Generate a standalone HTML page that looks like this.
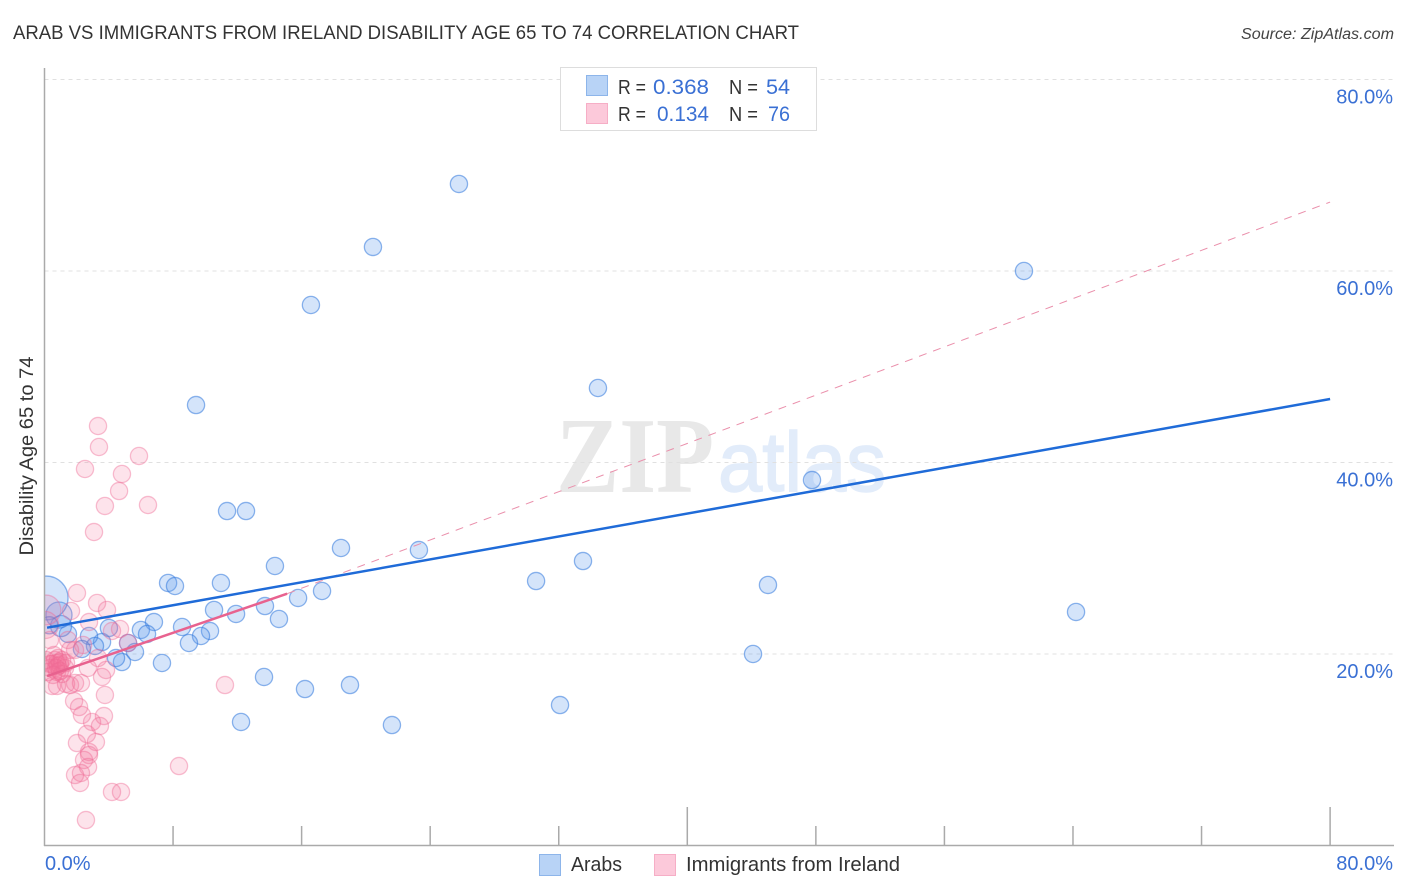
<!DOCTYPE html>
<html lang="en">
<head>
<meta charset="utf-8">
<title>Arab vs Immigrants from Ireland Disability Age 65 to 74 Correlation Chart</title>
<style>
html,body{margin:0;padding:0;background:#fff;}
svg{display:block;font-family:"Liberation Sans",sans-serif;}
</style>
</head>
<body>
<svg id="chart" xmlns="http://www.w3.org/2000/svg" width="1406" height="892" viewBox="0 0 1406 892">
  <text x="13" y="39" font-size="19" fill="#333" textLength="786" lengthAdjust="spacingAndGlyphs">ARAB VS IMMIGRANTS FROM IRELAND DISABILITY AGE 65 TO 74 CORRELATION CHART</text>
  <text x="1241" y="39" font-size="15.5" font-style="italic" fill="#444" textLength="153" lengthAdjust="spacingAndGlyphs">Source: ZipAtlas.com</text>

  <g>
    <text x="556" y="492" font-family="'Liberation Serif',serif" font-weight="bold" font-size="108" fill="#e8e8e8" textLength="158" lengthAdjust="spacingAndGlyphs">ZIP</text>
    <text x="718" y="491" font-family="'Liberation Sans',sans-serif" font-size="84" fill="#e2ecfa" stroke="#e2ecfa" stroke-width="1.5" textLength="168" lengthAdjust="spacingAndGlyphs">atlas</text>
  </g>

  <g id="grid"></g>
  <g id="points"></g>
  <rect x="0" y="60" width="45" height="790" fill="#fff"/>
  <g id="axes"></g>
  <g id="trends"></g>

  <text transform="translate(33,456) rotate(-90)" font-size="19" fill="#333" text-anchor="middle" textLength="199" lengthAdjust="spacingAndGlyphs">Disability Age 65 to 74</text>

  <g>
    <rect x="560.5" y="67.5" width="256" height="63" fill="#fff" stroke="#ddd" stroke-width="1"/>
    <rect x="586.5" y="75.5" width="21" height="20" fill="#b8d3f6" stroke="#8db5ea"/>
    <rect x="586.5" y="103.5" width="21" height="20" fill="#fcc9da" stroke="#f6aec6"/>
    <g font-size="20" fill="#333">
      <text x="618" y="94" textLength="28" lengthAdjust="spacingAndGlyphs">R =</text>
      <text x="729" y="94" textLength="29" lengthAdjust="spacingAndGlyphs">N =</text>
      <text x="618" y="121" textLength="28" lengthAdjust="spacingAndGlyphs">R =</text>
      <text x="729" y="121" textLength="29" lengthAdjust="spacingAndGlyphs">N =</text>
    </g>
    <g font-size="21.5" fill="#3a70d4">
      <text x="653" y="94" textLength="56" lengthAdjust="spacingAndGlyphs">0.368</text>
      <text x="766" y="94" textLength="24" lengthAdjust="spacingAndGlyphs">54</text>
      <text x="657" y="121" textLength="52" lengthAdjust="spacingAndGlyphs">0.134</text>
      <text x="768" y="121" textLength="22" lengthAdjust="spacingAndGlyphs">76</text>
    </g>
  </g>

  <g>
    <rect x="539.5" y="854.5" width="21" height="21" fill="#b8d3f6" stroke="#8db5ea"/>
    <text x="571" y="871" font-size="20" fill="#333" textLength="51" lengthAdjust="spacingAndGlyphs">Arabs</text>
    <rect x="654.5" y="854.5" width="21" height="21" fill="#fcc9da" stroke="#f6aec6"/>
    <text x="686" y="871" font-size="20" fill="#333" textLength="214" lengthAdjust="spacingAndGlyphs">Immigrants from Ireland</text>
  </g>
</svg>

<script>
// Data (percent values)
const xTickValues = [0,8,16,24,32,40,48,56,64,72,80];
const xTickMajor = [40,80];
const xEdgeLabels = [0,80];
const yTickValues = [20,40,60,80];

const arabX = [25.79,20.44,60.95,16.58,34.44,9.43,47.76,11.36,12.54,18.45,23.3,33.51,14.34,30.59,7.69,8.12,10.98,45.02,17.27,15.78,13.72,10.55,11.92,14.59,64.19,6.81,8.56,6.0,6.38,10.3,9.74,8.99,5.2,3.58,2.77,3.14,2.33,1.46,1.03,0.9,4.01,5.63,4.82,4.45,7.31,44.09,13.66,19.01,16.21,32.08,12.23,21.62,0.1,0.3];
const arabY = [69.09,62.51,60.0,56.45,47.78,46.0,38.17,34.93,34.93,31.07,30.86,29.71,29.19,27.62,27.42,27.1,27.42,27.21,26.58,25.85,25.01,24.6,24.18,23.66,24.39,23.34,22.82,22.51,22.09,22.4,21.88,21.15,21.15,21.25,21.88,20.84,20.52,22.09,22.92,24.07,22.72,20.21,19.16,19.58,19.06,20.0,17.6,16.76,16.34,14.67,12.9,12.58,25.85,23.0];
const arabWeight = [1,1,1,1,1,1,1,1,1,1,1,1,1,1,1,1,1,1,1,1,1,1,1,1,1,1,1,1,1,1,1,1,1,1,1,1,1,1,1.5,2.3,1,1,1,1,1,1,1,1,1,1,1,1,6.5,1];

const irelandX = [3.33,3.39,5.88,2.52,4.82,4.64,3.76,6.44,3.08,2.02,3.27,1.65,3.89,2.77,4.2,4.7,5.2,2.4,3.33,3.83,3.58,3.76,1.84,2.15,2.33,3.7,2.96,3.45,2.64,2.02,3.2,2.77,2.77,2.46,2.71,1.9,2.27,2.21,4.2,4.76,2.58,8.37,11.23,0.03,0.09,0.34,0.47,0.59,0.84,1.9,1.46,0.65,0.96,0.34,0.78,1.28,0.96,0.47,0.78,1.34,1.59,1.9,2.27,0.78,0.09,0.22,0.34,0.84,1.09,1.34,1.09,0.72,0.96,0.53,1.59,2.7];
const irelandY = [43.81,41.62,40.68,39.32,38.8,37.02,35.46,35.56,32.74,26.37,25.33,24.49,24.6,23.34,22.4,22.61,21.15,20.94,19.58,18.33,17.6,15.72,15.09,14.46,13.63,13.52,12.9,12.48,11.64,10.7,10.81,9.77,9.45,8.93,8.2,7.36,7.57,6.53,5.59,5.59,2.66,8.3,16.76,23.03,24.6,21.46,18.96,19.89,19.58,20.42,21.46,19.37,18.85,18.54,18.12,18.54,19.16,16.66,16.66,16.87,16.76,16.97,16.97,19.06,19.37,18.12,18.96,18.75,19.37,19.06,17.91,18.54,18.22,17.81,20.42,18.54];
const irelandWeight = [1,1,1,1,1,1,1,1,1,1,1,1,1,1,1,1,1,1,1,1,1,1,1,1,1,1,1,1,1,1,1,1,1,1,1,1,1,1,1,1,1,1,1,2.5,3,1,1,1,1,1,1,1,1,1,1,1,1,1,1,1,1,1,1,1,1,1,1,1,1,1,1,1,1,1,1,1];

const arabTrendX = [0.16,80];
const arabTrendY = [22.75,46.63];
const irelandSolidX = [0.16,15.1];
const irelandSolidY = [17.7,26.3];
const irelandDashX = [15.1,80];
const irelandDashY = [26.3,67.2];

// Axis functions
function xScale(v){ return 44.5 + v * 16.07; }
function yScale(v){ return 845.5 - v * 9.575; }
const NS = 'http://www.w3.org/2000/svg';
function make(tag, attrs, parent){
  const el = document.createElementNS(NS, tag);
  for (const k in attrs) el.setAttribute(k, attrs[k]);
  parent.appendChild(el);
  return el;
}
const gridG = document.getElementById('grid');
const axesG = document.getElementById('axes');
const pointsG = document.getElementById('points');
const trendsG = document.getElementById('trends');

yTickValues.forEach(function(v){
  const line = make('line', {x1:44.5, x2:1393, y1:yScale(v), y2:yScale(v), stroke:'#e0e0e0', 'stroke-width':1, 'stroke-dasharray':'4 4'}, gridG);
  
  
  const label = make('text', {x:1393, y:yScale(v)+24, 'font-size':20, fill:'#3a70d4', 'text-anchor':'end'}, axesG);
  label.textContent = v.toFixed(1) + '%';
  
  
});

const yAxis = make('line', {x1:44.5, x2:44.5, y1:68, y2:846, stroke:'#aaa', 'stroke-width':1.5}, axesG);


const xAxis = make('line', {x1:44, x2:1394, y1:845.5, y2:845.5, stroke:'#aaa', 'stroke-width':1.5}, axesG);



xTickValues.forEach(function(v){
  if (v === 0) return;
  const top = xTickMajor.indexOf(v) >= 0 ? 807 : 826;
  const tick = make('line', {x1:xScale(v), x2:xScale(v), y1:top, y2:845.5, stroke:'#aaa', 'stroke-width':1.5}, axesG);
  
  
});

xEdgeLabels.forEach(function(v){
  const anchorEnd = v !== 0;
  const label = make('text', {x: anchorEnd ? 1393 : 45, y:870, 'font-size':20, fill:'#3a70d4', 'text-anchor': anchorEnd ? 'end' : 'start'}, axesG);
  label.textContent = v.toFixed(1) + '%';
  
  
});

arabX.forEach(function(v, i){
  const dot = make('circle', {cx:xScale(v), cy:yScale(arabY[i]), r:8.6*Math.sqrt(arabWeight[i]), fill:'rgba(95,155,235,0.27)', stroke:'rgba(50,120,220,0.55)', 'stroke-width':1.3}, pointsG);
  
  
});
irelandX.forEach(function(v, i){
  const dot = make('circle', {cx:xScale(v), cy:yScale(irelandY[i]), r:8.6*Math.sqrt(irelandWeight[i]), fill:'rgba(245,115,155,0.2)', stroke:'rgba(238,105,148,0.42)', 'stroke-width':1.3}, pointsG);
  
  
});

const dashLine = make('line', {x1:xScale(irelandDashX[0]), y1:yScale(irelandDashY[0]), x2:xScale(irelandDashX[1]), y2:yScale(irelandDashY[1]), stroke:'#ea8fab', 'stroke-width':1, 'stroke-dasharray':'8 7'}, trendsG);


const pinkLine = make('line', {x1:xScale(irelandSolidX[0]), y1:yScale(irelandSolidY[0]), x2:xScale(irelandSolidX[1]), y2:yScale(irelandSolidY[1]), stroke:'#e8628f', 'stroke-width':2.5}, trendsG);


const blueLine = make('line', {x1:xScale(arabTrendX[0]), y1:yScale(arabTrendY[0]), x2:xScale(arabTrendX[1]), y2:yScale(arabTrendY[1]), stroke:'#1f6bd8', 'stroke-width':2.5}, trendsG);


</script>
</body>
</html>
